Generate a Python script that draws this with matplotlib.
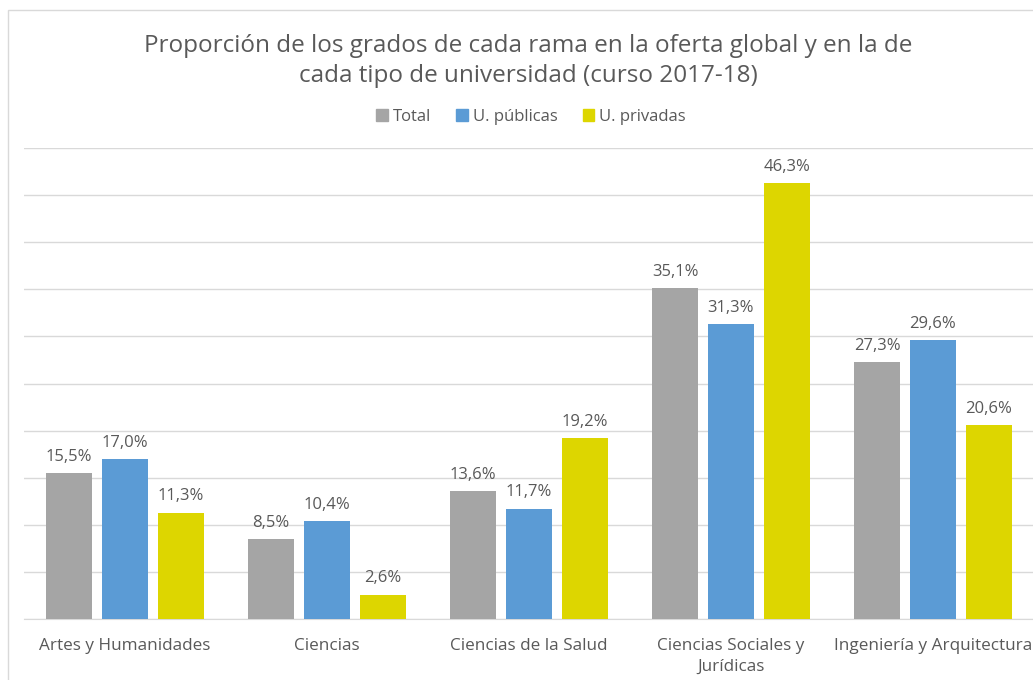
import numpy as np
import matplotlib.pyplot as plt
from matplotlib.patches import Rectangle, Patch

plt.rcParams['font.family'] = ['Open Sans', 'DejaVu Sans']

# Datos
ramas = ['Artes y Humanidades', 'Ciencias', 'Ciencias de la Salud',
         'Ciencias Sociales y\nJurídicas', 'Ingeniería y Arquitectura']
series = ['Total', 'U. públicas', 'U. privadas']
total = [15.5, 8.5, 13.6, 35.1, 27.3]
publicas = [17.0, 10.4, 11.7, 31.3, 29.6]
privadas = [11.3, 2.6, 19.2, 46.3, 20.6]
colores = ['#A5A5A5', '#5B9BD5', '#DDD600']
texto = '#595959'

W, H = 1033, 680
fig = plt.figure(figsize=(W / 100, H / 100), dpi=100)

# marco del gráfico
fig.patches.append(Rectangle((8 / W, -0.1), 1.2, 1.1 - 10 / H, transform=fig.transFigure,
                             fill=False, edgecolor='#D9D9D9', lw=1, clip_on=False))

ax = fig.add_axes([24 / W, 61 / H, 1010 / W, 471 / H])
x = np.arange(len(ramas))
ancho = 0.228
paso = 0.277
for i, (vals, nombre) in enumerate(zip([total, publicas, privadas], series)):
    barras = ax.bar(x + (i - 1) * paso, vals, ancho, color=colores[i], label=nombre, zorder=3)
    etiquetas = [f'{v:.1f}%'.replace('.', ',') for v in vals]
    ax.bar_label(barras, labels=etiquetas, padding=6, fontsize=12, color=texto)

ax.set_xlim(-0.5, 4.5)
ax.set_ylim(0, 50)
ax.set_yticks(np.arange(0, 51, 5))
ax.yaxis.grid(True, color='#D9D9D9', lw=1, zorder=0)
ax.tick_params(axis='y', left=False, labelleft=False)
ax.tick_params(axis='x', length=0, pad=14, labelsize=12.3, labelcolor=texto)
ax.set_xticks(x)
ax.set_xticklabels(ramas, linespacing=1.4)
for s in ['top', 'right', 'left']:
    ax.spines[s].set_visible(False)
ax.spines['bottom'].set_color('#D9D9D9')

fig.text(528 / W, 1 - 61 / H,
         'Proporción de los grados de cada rama en la oferta global y en la de\n'
         'cada tipo de universidad (curso 2017-18)',
         ha='center', va='center', fontsize=17.5, color=texto, linespacing=1.32)

handles = [Patch(color=c) for c in colores]
fig.legend(handles, series, loc='center', bbox_to_anchor=(531 / W, 1 - 117 / H), ncol=3,
           frameon=False, fontsize=12, labelcolor=texto, handlelength=0.7, handleheight=0.7,
           handletextpad=0.3, columnspacing=1.5)

fig.savefig('out.png', dpi=100)
